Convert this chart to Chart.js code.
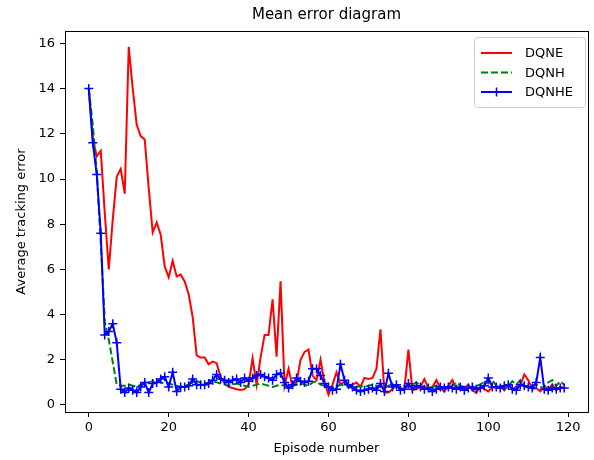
<!DOCTYPE html>
<html>
<head>
<meta charset="utf-8">
<script src="https://cdn.jsdelivr.net/npm/chart.js@4.4.0/dist/chart.umd.min.js"></script>
<style>
body { margin: 0; background: #fff; }
</style>
</head>
<body>
<canvas id="myChart" width="594" height="460"></canvas>
<script>
// values
const dqne = [
  14.0, 11.8, 11.0, 11.25, 8.5, 6.0, 8.2, 10.1, 10.45, 9.35,
  15.85, 14.0, 12.4, 11.9, 11.75, 9.6, 7.64, 8.08, 7.54, 6.13,
  5.65, 6.38, 5.69, 5.77, 5.47, 4.9, 3.9, 2.2, 2.1, 2.1,
  1.8, 1.92, 1.85, 1.25, 0.95, 0.8, 0.75, 0.7, 0.66, 0.7,
  0.9, 2.07, 0.89, 2.1, 3.1, 3.1, 4.68, 2.14, 5.47, 0.85,
  1.6, 0.8, 1.0, 2.0, 2.35, 2.45, 1.3, 1.1, 2.0, 1.0,
  0.45, 0.9, 1.45, 0.9, 1.05, 0.8, 0.9, 1.0, 0.8, 1.2,
  1.15, 1.2, 1.6, 3.35, 0.55, 0.55, 0.7, 0.9, 0.75, 0.7,
  2.45, 0.65, 0.7, 0.8, 1.15, 0.75, 0.8, 1.1, 0.75, 0.6,
  0.85, 1.1, 0.7, 0.8, 0.75, 0.9, 0.65, 0.55, 0.8, 0.7,
  0.6, 0.8, 0.75, 0.85, 0.65, 0.9, 0.7, 0.8, 0.85, 1.35,
  1.1, 0.7, 0.75, 0.6, 0.8, 0.7, 0.9, 0.65, 0.8, 0.75
];
const dqnh = [
  14.0, 12.4, 10.3, 7.2, 3.7, 2.9, 1.9, 0.9, 0.85, 0.85,
  0.9, 0.85, 0.8, 0.9, 0.95, 1.0, 1.05, 1.1, 1.0, 0.95,
  0.95, 0.9, 0.85, 0.8, 0.85, 0.9, 1.0, 1.05, 1.0, 0.95,
  1.0, 1.05, 1.0, 0.95, 0.9, 0.85, 0.9, 0.95, 0.9, 0.85,
  0.8, 0.85, 0.9, 0.95, 0.9, 0.85, 0.8, 0.85, 0.9, 0.85,
  0.8, 0.85, 0.9, 0.95, 0.9, 0.85, 1.0, 1.05, 0.9, 0.85,
  0.8, 0.75, 0.8, 0.9, 0.85, 0.8, 0.75, 0.8, 0.85, 0.8,
  0.85, 0.9, 0.85, 0.8, 0.75, 0.85, 0.9, 0.85, 0.8, 0.85,
  0.8, 0.9, 1.0, 0.85, 0.8, 0.75, 0.8, 0.85, 0.8, 0.75,
  0.8, 0.85, 1.0, 0.85, 0.8, 0.75, 0.8, 0.85, 0.9, 1.05,
  0.95, 1.1, 0.85, 0.8, 0.75, 0.85, 1.05, 0.9, 1.1, 0.85,
  0.8, 0.85, 0.9, 0.8, 0.75, 1.0, 1.1, 0.85, 1.05, 0.9
];
const dqnhe = [
  14.0, 11.6, 10.2, 7.6, 3.1, 3.25, 3.6, 2.75, 0.7, 0.55,
  0.75, 0.65, 0.55, 0.8, 1.0, 0.55, 0.95, 1.0, 1.15, 1.25,
  0.8, 1.45, 0.6, 0.8, 0.8, 0.85, 1.15, 0.9, 0.9, 0.9,
  0.95, 1.1, 1.35, 1.15, 1.1, 1.0, 1.1, 1.15, 1.0, 1.2,
  1.05, 1.2, 1.3, 1.35, 1.25, 1.2, 1.1, 1.35, 1.4, 1.0,
  0.75, 0.9, 1.2, 1.05, 1.0, 1.05, 1.6, 1.6, 1.3, 0.95,
  0.8, 0.65, 0.7, 1.8, 1.1, 0.9, 0.8, 0.65, 0.6, 0.65,
  0.7, 0.75, 0.65, 0.95, 0.6, 1.4, 0.8, 0.9, 0.65, 0.7,
  0.95, 0.7, 0.85, 0.8, 0.7, 0.75, 0.6, 0.7, 0.8, 0.75,
  0.8, 0.75, 0.7, 0.8, 0.65, 0.75, 0.8, 0.7, 0.75, 0.85,
  1.2, 0.8, 0.8, 0.75, 0.85, 0.9, 0.7, 0.65, 0.9, 0.85,
  0.8, 0.75, 1.0, 2.1, 0.7, 0.65, 0.75, 0.7, 0.75, 0.75
];
const episodes = dqne.map((v, i) => i);
const xTicks = [0, 20, 40, 60, 80, 100, 120];
const yTicks = [0, 2, 4, 6, 8, 10, 12, 14, 16];

const font = "'DejaVu Sans', sans-serif";

// title, frame and legend drawn like matplotlib
const extras = {
  id: 'extras',
  afterDatasetsDraw(chart) {
    const { ctx, chartArea: a } = chart;
    ctx.save();
    ctx.strokeStyle = '#000';
    ctx.lineWidth = 1;
    ctx.strokeRect(Math.round(a.left) + 0.5, Math.round(a.top) + 0.5,
      Math.round(a.right - a.left), Math.round(a.bottom - a.top));
    ctx.restore();
  },
  afterDraw(chart) {
    const { ctx, chartArea: a } = chart;
    ctx.save();
    ctx.fillStyle = '#000';
    ctx.font = '15px ' + font;
    ctx.textAlign = 'center';
    ctx.textBaseline = 'middle';
    ctx.fillText('Mean error diagram', (a.left + a.right) / 2, 15);

    // legend
    const bx = 474, by = 37, bw = 111, bh = 70;
    ctx.beginPath();
    ctx.roundRect(bx + 0.5, by + 0.5, bw, bh, 3);
    ctx.fillStyle = 'rgba(255,255,255,0.8)';
    ctx.fill();
    ctx.strokeStyle = '#cccccc';
    ctx.lineWidth = 1;
    ctx.stroke();

    ctx.font = '13px ' + font;
    ctx.textAlign = 'left';
    chart.data.datasets.forEach((ds, i) => {
      const y = by + 16 + i * 19.5;
      ctx.strokeStyle = ds.borderColor;
      ctx.lineWidth = ds.borderWidth;
      ctx.setLineDash(ds.borderDash || []);
      ctx.beginPath();
      ctx.moveTo(bx + 7, y);
      ctx.lineTo(bx + 38, y);
      ctx.stroke();
      ctx.setLineDash([]);
      if (ds.pointRadius > 0) {
        ctx.lineWidth = 1.5;
        ctx.beginPath();
        ctx.moveTo(bx + 22.5 - 4.5, y);
        ctx.lineTo(bx + 22.5 + 4.5, y);
        ctx.moveTo(bx + 22.5, y - 4.5);
        ctx.lineTo(bx + 22.5, y + 4.5);
        ctx.stroke();
      }
      ctx.fillStyle = '#000';
      ctx.fillText(ds.label, bx + 51, y + 1);
    });
    ctx.restore();
  }
};

const ctx = document.getElementById('myChart');

new Chart(ctx, {
  type: 'line',
  data: {
    labels: episodes,
    datasets: [
      { label: 'DQNE', data: dqne, borderColor: '#ff0000', borderWidth: 2,
        pointRadius: 0, order: 3 },
      { label: 'DQNH', data: dqnh, borderColor: '#008000', borderWidth: 2,
        borderDash: [7, 3], pointRadius: 0, order: 2 },
      { label: 'DQNHE', data: dqnhe, borderColor: '#0000ff', borderWidth: 2,
        pointStyle: 'cross', pointRadius: 4.5, pointBorderWidth: 1.5,
        pointBorderColor: '#0000ff', order: 1 }
    ]
  },
  options: {
    responsive: false,
    animation: false,
    events: [],
    layout: { padding: { top: 31, right: 4, left: 0, bottom: 0 } },
    elements: { line: { tension: 0 } },
    plugins: {
      legend: { display: false },
      title: { display: false },
      tooltip: { enabled: false }
    },
    scales: {
      x: {
        type: 'linear',
        min: -5.95,
        max: 124.95,
        afterBuildTicks: axis => { axis.ticks = xTicks.map(v => ({ value: v })); },
        afterFit: scale => { scale.height = 48; },
        border: { display: false },
        grid: { drawOnChartArea: false, drawTicks: true, tickLength: 5, color: '#000' },
        ticks: { color: '#000', padding: 3, maxRotation: 0, font: { family: font, size: 13 } },
        title: { display: true, text: 'Episode number', color: '#000',
          font: { family: font, size: 13 }, padding: { top: 2, bottom: 4 } }
      },
      y: {
        min: -0.31,
        max: 16.55,
        afterBuildTicks: axis => { axis.ticks = yTicks.map(v => ({ value: v })); },
        afterFit: scale => { scale.width = 65; },
        border: { display: false },
        grid: { drawOnChartArea: false, drawTicks: true, tickLength: 5, color: '#000' },
        ticks: { color: '#000', padding: 5, font: { family: font, size: 13 } },
        title: { display: true, text: 'Average tracking error', color: '#000',
          font: { family: font, size: 13 }, padding: { top: 14, bottom: 2 } }
      }
    }
  },
  plugins: [extras]
});
</script>
</body>
</html>
